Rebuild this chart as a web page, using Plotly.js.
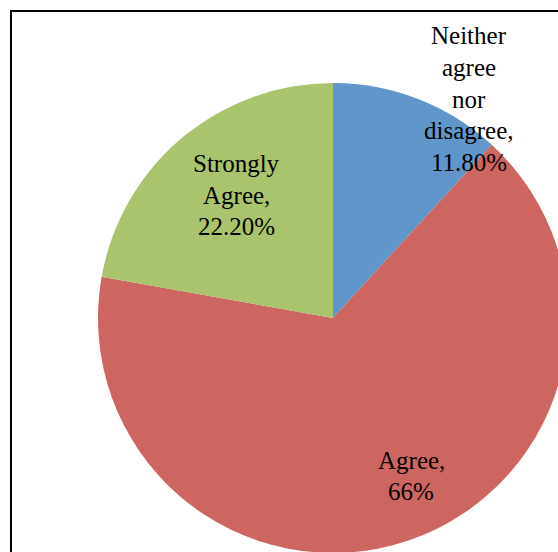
<!DOCTYPE html>
<html>
<head>
<meta charset="utf-8">
<script src="https://cdn.plot.ly/plotly-3.0.1.min.js"></script>
<style>
html, body { margin: 0; padding: 0; width: 558px; height: 552px; overflow: hidden; background: #fff; }
#chart { position: absolute; left: 0; top: 0; }
</style>
</head>
<body>
<div id="chart"></div>
<script>
// Data
const categories = ["Neither agree nor disagree", "Agree", "Strongly Agree"];
const values = [11.8, 66, 22.2];
const valueLabels = ["11.80%", "66%", "22.20%"];
const labelLines = [
  ["Neither", "agree", "nor", "disagree,"],
  ["Agree,"],
  ["Strongly", "Agree,"]
];
const colors = ["#6096C9", "#CD6660", "#A9C46C"];

// Layout geometry (pixels)
const W = 666, H = 636, L = 98, T = 83, R = 470;
const px = x => (x - L) / R;
const py = y => 1 - (y - T) / R;
const labelPos = [[469, 99], [411, 476], [236, 195]];
const lineGap = 31.5;

const annotations = [];
categories.forEach((c, i) => {
  const lines = labelLines[i].concat([valueLabels[i]]);
  const n = lines.length;
  lines.forEach((t, j) => {
    annotations.push({
      xref: "paper", yref: "paper",
      x: px(labelPos[i][0]),
      y: py(labelPos[i][1] + (j - (n - 1) / 2) * lineGap),
      xanchor: "center", yanchor: "middle",
      text: t,
      showarrow: false,
      font: { family: "Liberation Serif", size: 25, color: "#000" }
    });
  });
});

const trace = {
  type: "pie",
  labels: categories,
  values: values,
  sort: false,
  direction: "clockwise",
  rotation: 0,
  textinfo: "none",
  hoverinfo: "label+percent",
  marker: { colors: colors, line: { width: 0 } },
  showlegend: false
};

const layout = {
  width: W, height: H,
  margin: { l: L, r: W - L - R, t: T, b: H - T - R, pad: 0 },
  paper_bgcolor: "#fff",
  plot_bgcolor: "#fff",
  showlegend: false,
  annotations: annotations,
  shapes: [
    { type: "line", xref: "paper", yref: "paper", x0: px(11), x1: px(11), y0: py(10), y1: py(700), line: { color: "#000", width: 2 } },
    { type: "line", xref: "paper", yref: "paper", x0: px(10), x1: px(700), y0: py(11), y1: py(11), line: { color: "#000", width: 2 } }
  ]
};

Plotly.newPlot("chart", [trace], layout, { staticPlot: true });
</script>
</body>
</html>
